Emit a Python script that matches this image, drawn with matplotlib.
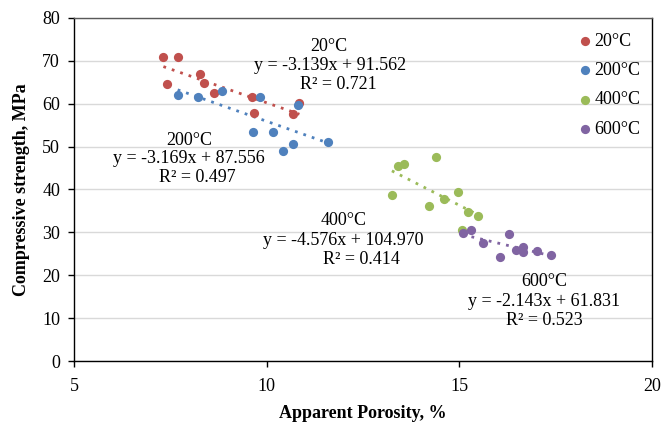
import matplotlib
matplotlib.use("Agg")
import matplotlib.pyplot as plt
import numpy as np

plt.rcParams['font.family'] = ['Liberation Serif', 'DejaVu Serif']

series_names = ["20°C", "200°C", "400°C", "600°C"]
colors = ["#C0504D", "#4F81BD", "#9BBB59", "#8064A2"]

porosity_20 = [7.32, 7.71, 7.42, 8.27, 8.37, 8.62, 9.61, 9.67, 10.85, 10.69]
strength_20 = [70.9, 70.9, 64.5, 66.8, 64.8, 62.4, 61.6, 57.8, 60.2, 57.6]

porosity_200 = [7.69, 8.23, 8.83, 9.83, 9.65, 10.17, 10.81, 11.60, 10.68, 10.43]
strength_200 = [62.0, 61.6, 62.9, 61.5, 53.3, 53.4, 59.7, 51.1, 50.6, 49.0]

porosity_400 = [13.42, 13.56, 14.40, 13.25, 14.20, 14.60, 14.96, 15.23, 15.48, 15.08]
strength_400 = [45.5, 45.9, 47.5, 38.7, 36.2, 37.7, 39.5, 34.8, 33.8, 30.6]

porosity_600 = [15.09, 15.30, 15.62, 16.29, 16.06, 16.46, 16.65, 16.66, 17.02, 17.37]
strength_600 = [29.8, 30.6, 27.6, 29.6, 24.3, 25.9, 25.5, 26.7, 25.8, 24.8]

slopes = [-3.139, -3.169, -4.576, -2.143]
intercepts = [91.562, 87.556, 104.970, 61.831]
r_squared = [0.721, 0.497, 0.414, 0.523]

x_ticks = [5, 10, 15, 20]
y_ticks = [0, 10, 20, 30, 40, 50, 60, 70, 80]

porosity = [porosity_20, porosity_200, porosity_400, porosity_600]
strength = [strength_20, strength_200, strength_400, strength_600]

fig = plt.figure(figsize=(6.62, 4.22), dpi=100)
ax = fig.add_axes([0.1118, 0.1434, 0.9849 - 0.1118, 0.9585 - 0.1434])

ax.set_xlim(5, 20)
ax.set_ylim(0, 80)
ax.set_xticks(x_ticks)
ax.set_yticks(y_ticks)
ax.yaxis.grid(True, color="#D9D9D9", linewidth=1.0)
ax.set_axisbelow(True)

for name, c, xs, ys, m, b in zip(series_names, colors, porosity, strength, slopes, intercepts):
    ax.scatter(xs, ys, s=44, color=c, label=name, zorder=3, linewidths=0)
    xl = np.array([min(xs), max(xs)])
    ax.plot(xl, m * xl + b, linestyle=(0, (1, 2.2)), color=c, linewidth=2.0, zorder=2)

for side in ["left", "bottom", "right"]:
    ax.spines[side].set_color("black")
    ax.spines[side].set_linewidth(1.0)
ax.spines["top"].set_color("#595959")
ax.spines["top"].set_linewidth(1.0)

ax.tick_params(axis="both", direction="out", length=4, width=1.0, labelsize=13, colors="black")
ax.tick_params(axis="x", pad=8)
ax.tick_params(axis="y", pad=6)

ax.set_xlabel("Apparent Porosity, %", fontsize=13, fontweight="bold", labelpad=7)
ax.set_ylabel("Compressive strength, MPa", fontsize=13, fontweight="bold", labelpad=9)

def eq_text(m, b):
    return f"y = -{abs(m):.3f}x + {b:.3f}"

# trendline annotations (name, equation, R²)
label_pos = [
    ((11.62, 73.2), (11.65, 68.8), (11.85, 64.5)),
    ((7.98, 51.5), (7.98, 47.2), (8.19, 42.9)),
    ((12.0, 32.8), (12.0, 28.1), (12.45, 23.7)),
    ((17.21, 18.5), (17.21, 14.0), (17.21, 9.5)),
]
for name, m, b, r2, (p1, p2, p3) in zip(series_names, slopes, intercepts, r_squared, label_pos):
    ax.text(*p1, name, fontsize=13, ha="center", va="center")
    ax.text(*p2, eq_text(m, b), fontsize=13, ha="center", va="center")
    ax.text(*p3, f"R² = {r2:.3f}", fontsize=13, ha="center", va="center")

leg = ax.legend(loc="upper right", frameon=False, fontsize=13, handletextpad=0.15,
                handlelength=0.7, labelspacing=0.68, borderaxespad=0.5,
                bbox_to_anchor=(1.008, 1.003))

fig.savefig("out.png", dpi=100)
